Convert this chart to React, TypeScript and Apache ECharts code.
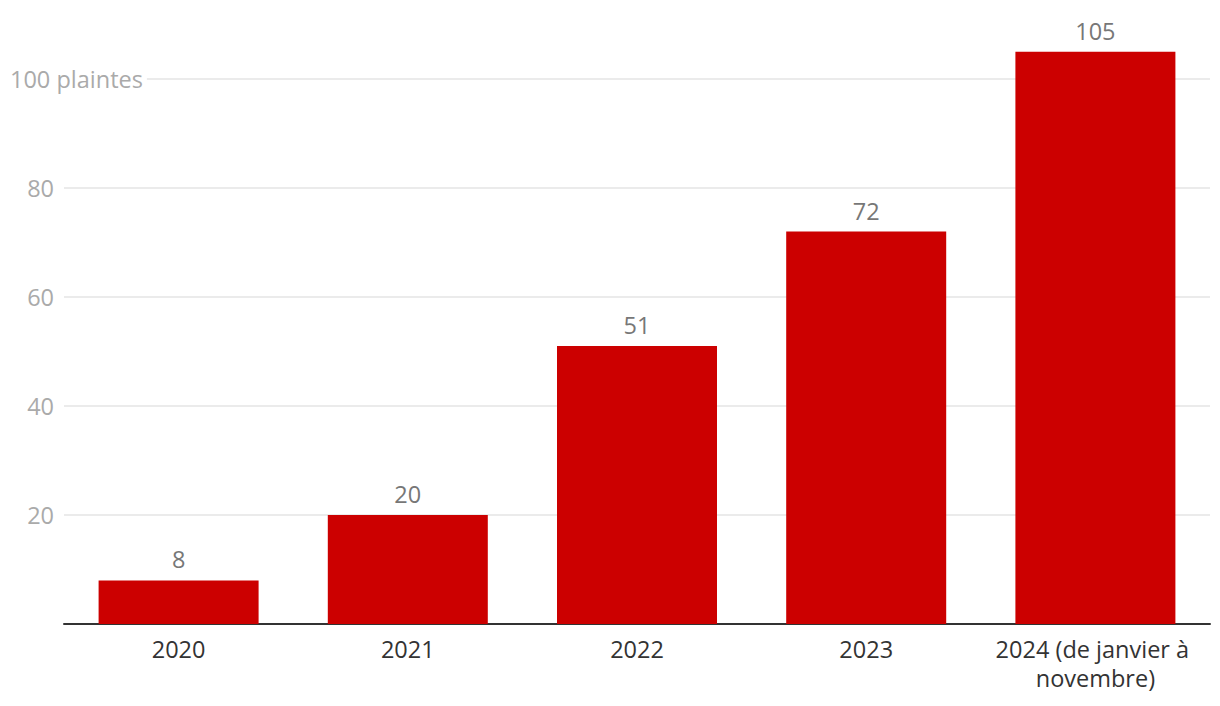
import React, { useEffect, useRef } from "react";
import * as echarts from "echarts";

const categories = ["2020", "2021", "2022", "2023", "2024 (de janvier à novembre)"];
const values = [8, 20, 51, 72, 105];
const yTicks = [20, 40, 60, 80];
const unitTick = 100;
const unitLabel = "100 plaintes";

const FONT = "'Open Sans', 'Noto Sans', sans-serif";
const FS = 23.5;

export default function App() {
  const ref = useRef<HTMLDivElement>(null);
  useEffect(() => {
    if (!ref.current) return;
    const chart = echarts.init(ref.current, null, { renderer: "svg" });
    chart.setOption({
      animation: false,
      grid: { left: 64, right: 10, top: 24.5, bottom: 82, containLabel: false },
      xAxis: {
        type: "category",
        data: categories,
        axisLine: { lineStyle: { color: "#333", width: 2 } },
        axisTick: { show: false },
        axisLabel: {
          interval: 0,
          color: "#333",
          fontFamily: FONT,
          fontSize: FS,
          margin: 10,
          lineHeight: 29,
          width: 215,
          overflow: "break",
        },
      },
      yAxis: [
        {
          type: "value",
          min: 0,
          max: 110,
          interval: 20,
          position: "left",
          axisLine: { show: false },
          axisTick: { show: false },
          splitLine: { lineStyle: { color: "#e4e4e4", width: 1.5 }, showMaxLine: false, showMinLine: false },
          axisLabel: {
            showMaxLabel: false,
            color: "#aaa",
            fontFamily: FONT,
            fontSize: FS,
            margin: 10,
            formatter: (v: number) => (yTicks.includes(v) ? String(v) : ""),
          },
        },
        {
          type: "value",
          min: 0,
          max: 110,
          interval: 20,
          position: "left",
          axisLine: { show: false },
          axisTick: { show: false },
          splitLine: { show: false },
          axisLabel: {
            showMaxLabel: false,
            align: "left",
            margin: 54,
            color: "#aaa",
            fontFamily: FONT,
            fontSize: FS,
            backgroundColor: "#fff",
            padding: [0, 4, 0, 0],
            formatter: (v: number) => (v === unitTick ? unitLabel : ""),
          },
        },
      ],
      series: [
        {
          type: "bar",
          data: values,
          barWidth: 160,
          itemStyle: { color: "#cc0000" },
          label: {
            show: true,
            position: "top",
            distance: 9,
            color: "#777",
            fontFamily: FONT,
            fontSize: FS,
          },
        },
      ],
    });
    return () => chart.dispose();
  }, []);
  return (
    <div
      ref={ref}
      style={{ position: "fixed", left: 0, top: 0, width: 1220, height: 706, background: "#fff" }}
    />
  );
}
